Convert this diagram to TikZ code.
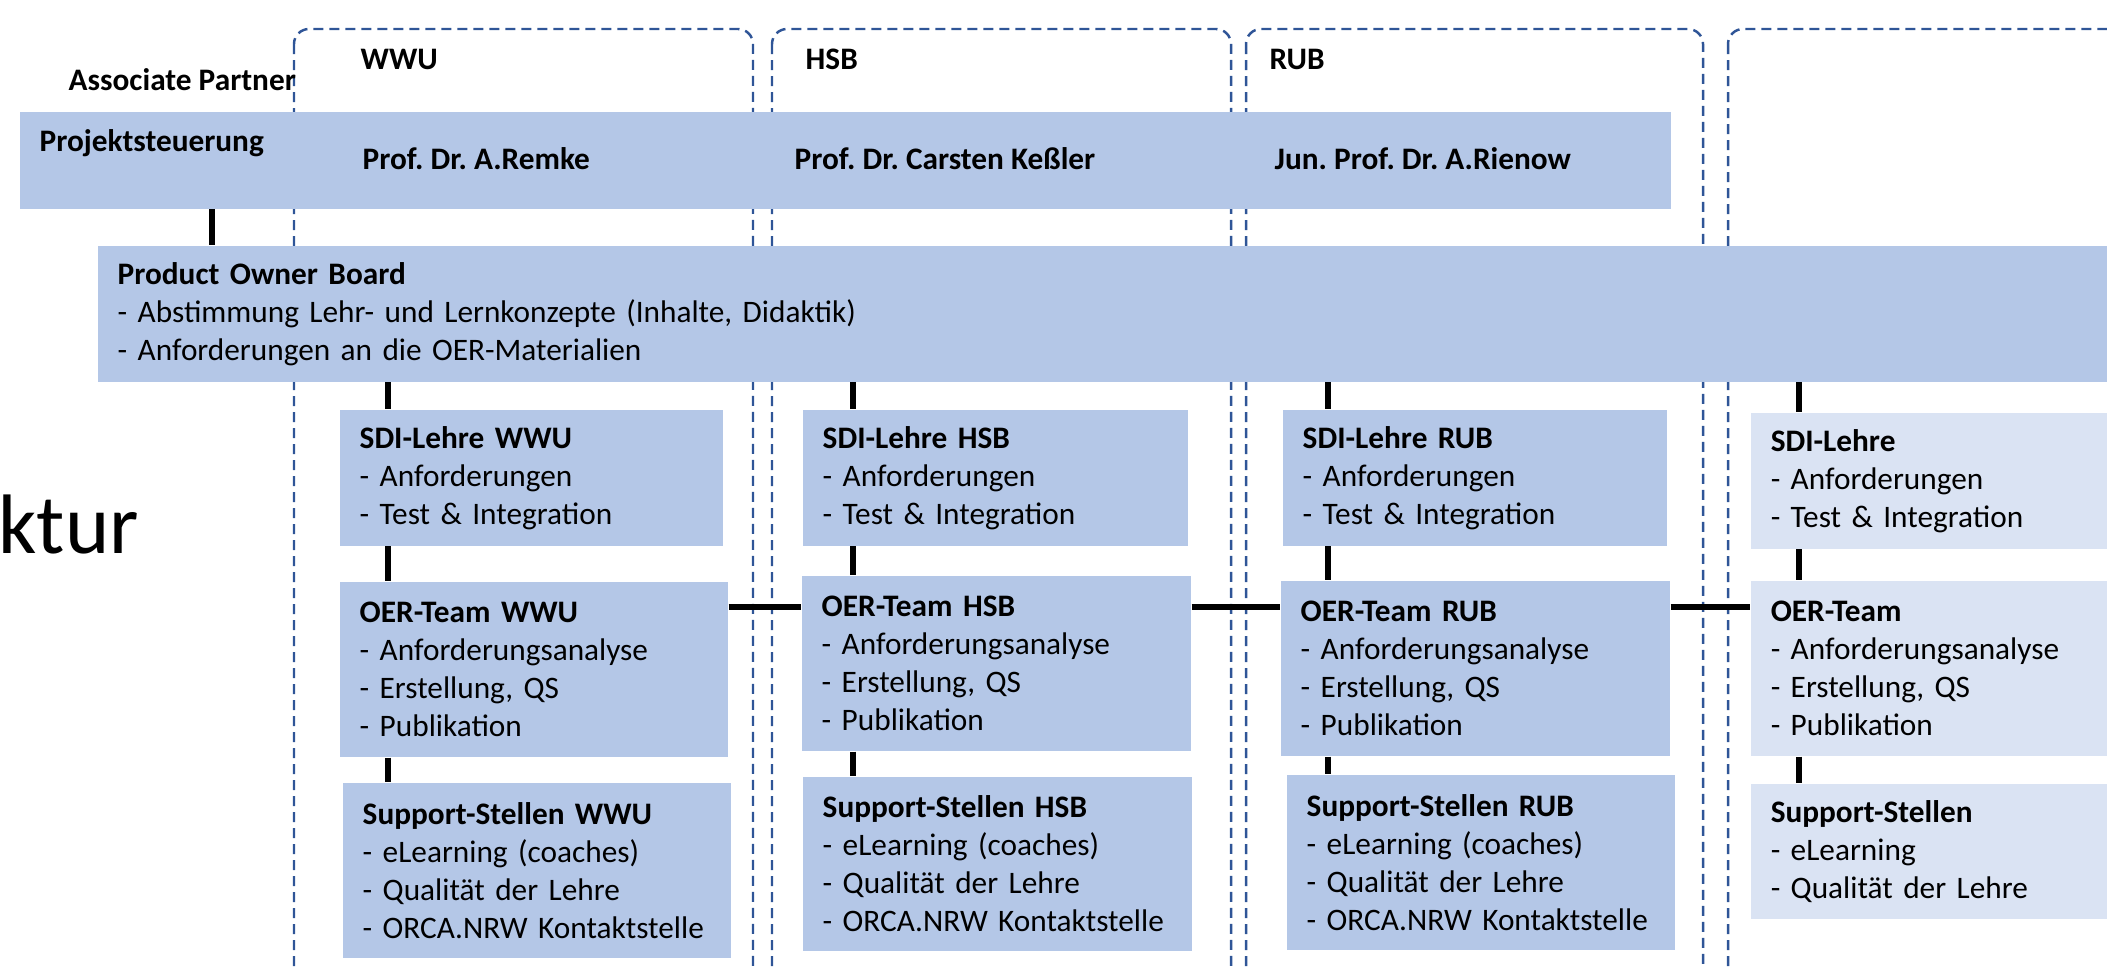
\documentclass[tikz,border=0pt]{standalone}
\usepackage{fontspec}
\setmainfont{Carlito}
\usepackage{tikz}
\usetikzlibrary{positioning}

\definecolor{boxblue}{HTML}{B4C7E7}
\definecolor{boxpale}{HTML}{DAE3F3}
\definecolor{partnerline}{HTML}{2F5597}
\frenchspacing
\hyphenpenalty=10000
\exhyphenpenalty=10000

\begin{document}
\begin{tikzpicture}[x=0.01cm, y=-0.01cm,
  every node/.style={font=\fontsize{8.9}{10.8}\selectfont},
  unit/.style={fill=boxblue, anchor=north west, align=left, inner xsep=0.2cm, inner ysep=0pt},
  pale/.style={unit, fill=boxpale},
  heading/.style={anchor=base west, inner sep=0pt, font=\fontsize{8.9}{10.8}\selectfont\bfseries},
  partner/.style={draw=partnerline, line width=0.7pt, dash pattern=on 2.85pt off 1.7pt, rounded corners=0.15cm},
  link/.style={line width=1.6pt}]
  \useasboundingbox (0,0) rectangle (2107,967);

  % partner frames
  \draw[partner] (294,29) rectangle (753,1010);
  \draw[partner] (772,29) rectangle (1231,1010);
  \draw[partner] (1246,29) rectangle (1703,1010);
  \draw[partner] (1728,29) rectangle (2250,1010);

  \node[heading] (assoc) at (68,91) {Associate Partner};
  \node[heading] (wwu) at (360,70) {WWU};
  \node[heading] (hsb) at (805,70) {HSB};
  \node[heading] (rub) at (1269,70) {RUB};

  \node[anchor=base west, inner sep=0pt, font=\fontsize{24}{26}\selectfont] (titlerest) at (-2,553) {ktur};

  % Projektsteuerung
  \node[unit, inner sep=0pt, minimum width=16.5cm, minimum height=0.97cm] (steering) at (19,111) {};
  \node[heading] (steertitle) at (39,152) {Projektsteuerung};
  \node[heading] (remke) at (362,170) {Prof. Dr. A.Remke};
  \node[heading] (kessler) at (794,170) {Prof. Dr. Carsten Keßler};
  \node[heading] (rienow) at (1274,170) {Jun. Prof. Dr. A.Rienow};

  \node[unit, text width=21cm, minimum height=1.36cm] (board) at (97,245)
    {\textbf{Product Owner Board}\\- Abstimmung Lehr- und Lernkonzepte (Inhalte, Didaktik)\\- Anforderungen an die OER-Materialien};

  % WWU
  \node[unit, text width=3.43cm, minimum height=1.36cm] (sdiwwu) at (339,409)
    {\textbf{SDI-Lehre WWU}\\- Anforderungen\\- Test \& Integration};
  \node[unit, text width=3.48cm, minimum height=1.75cm] (oerwwu) at (339,581)
    {\textbf{OER-Team WWU}\\- Anforderungsanalyse\\- Erstellung, QS\\- Publikation};
  \node[unit, text width=3.48cm, minimum height=1.75cm] (supwwu) at (342,782)
    {\textbf{Support-Stellen WWU}\\- eLearning (coaches)\\- Qualität der Lehre\\- ORCA.NRW Kontaktstelle};

  % HSB
  \node[unit, text width=3.45cm, minimum height=1.36cm] (sdihsb) at (802,409)
    {\textbf{SDI-Lehre HSB}\\- Anforderungen\\- Test \& Integration};
  \node[unit, text width=3.49cm, minimum height=1.75cm] (oerhsb) at (801,575)
    {\textbf{OER-Team HSB}\\- Anforderungsanalyse\\- Erstellung, QS\\- Publikation};
  \node[unit, text width=3.49cm, minimum height=1.74cm] (suphsb) at (802,776)
    {\textbf{Support-Stellen HSB}\\- eLearning (coaches)\\- Qualität der Lehre\\- ORCA.NRW Kontaktstelle};

  % RUB
  \node[unit, text width=3.44cm, minimum height=1.36cm] (sdirub) at (1282,409)
    {\textbf{SDI-Lehre RUB}\\- Anforderungen\\- Test \& Integration};
  \node[unit, text width=3.49cm, minimum height=1.75cm] (oerrub) at (1280,580)
    {\textbf{OER-Team RUB}\\- Anforderungsanalyse\\- Erstellung, QS\\- Publikation};
  \node[unit, text width=3.48cm, minimum height=1.75cm] (suprub) at (1286,774)
    {\textbf{Support-Stellen RUB}\\- eLearning (coaches)\\- Qualität der Lehre\\- ORCA.NRW Kontaktstelle};

  % further partner
  \node[pale, text width=4.1cm, minimum height=1.36cm] (sdifour) at (1750,412)
    {\textbf{SDI-Lehre}\\- Anforderungen\\- Test \& Integration};
  \node[pale, text width=4.1cm, minimum height=1.75cm] (oerfour) at (1750,580)
    {\textbf{OER-Team}\\- Anforderungsanalyse\\- Erstellung, QS\\- Publikation};
  \node[pale, text width=4.1cm, minimum height=1.35cm] (supfour) at (1750,783)
    {\textbf{Support-Stellen}\\- eLearning\\- Qualität der Lehre};

  % connectors
  \coordinate (steerline) at (212,0);
  \coordinate (colwwu) at (388,0);
  \coordinate (colhsb) at (853,0);
  \coordinate (colrub) at (1328,0);
  \coordinate (colfour) at (1799,0);
  \coordinate (teamline) at (0,607);

  \draw[link] (steerline |- steering.south) -- (steerline |- board.north);
  \foreach \col/\uni in {colwwu/wwu, colhsb/hsb, colrub/rub, colfour/four} {
    \draw[link] (\col |- board.south) -- (\col |- sdi\uni.north)
                (\col |- sdi\uni.south) -- (\col |- oer\uni.north)
                (\col |- oer\uni.south) -- (\col |- sup\uni.north);
  }
  \draw[link] (oerwwu.east |- teamline) -- (oerhsb.west |- teamline)
              (oerhsb.east |- teamline) -- (oerrub.west |- teamline)
              (oerrub.east |- teamline) -- (oerfour.west |- teamline);
\end{tikzpicture}
\end{document}
